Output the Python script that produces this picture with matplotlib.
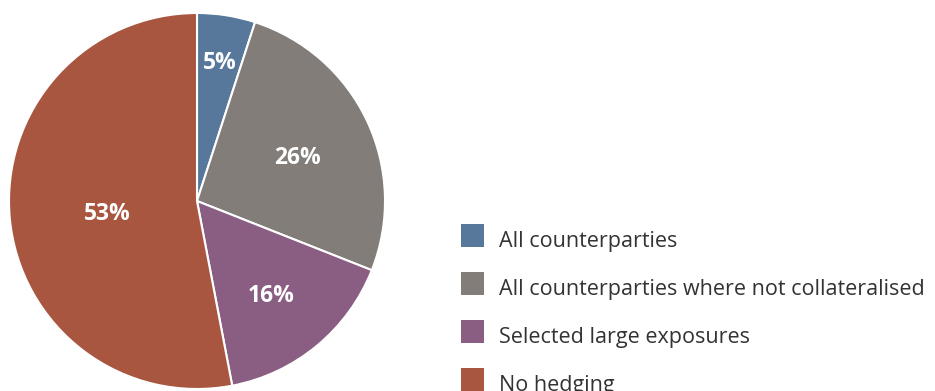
import numpy as np
import matplotlib.pyplot as plt
from matplotlib.patches import Rectangle

labels = ['All counterparties',
          'All counterparties where not collateralised',
          'Selected large exposures',
          'No hedging']
shares = [5, 26, 16, 53]
colours = ['#57789A', '#827D78', '#8A5E82', '#A95641']
label_radius = [0.77, 0.59, 0.62, 0.48]

W, H = 935, 391
fig = plt.figure(figsize=(W / 100, H / 100), dpi=100)
plt.rcParams['font.family'] = ['Open Sans', 'DejaVu Sans']

# pie: centre (197, 201) px, radius 188 px
cx, cy, r = 197, 201, 188
ax = fig.add_axes([(cx - r) / W, (H - cy - r) / H, 2 * r / W, 2 * r / H])
wedges, _ = ax.pie(shares, colors=colours, startangle=90, counterclock=False,
                   radius=1.0, wedgeprops=dict(edgecolor='white', linewidth=1.5))
ax.set_xlim(-1, 1)
ax.set_ylim(-1, 1)
ax.set_aspect('equal')
ax.axis('off')

for w, v, d in zip(wedges, shares, label_radius):
    mid = np.deg2rad((w.theta1 + w.theta2) / 2)
    ax.text(d * np.cos(mid), d * np.sin(mid) - 0.025, f'{v}%', color='white',
            fontsize=16.5, fontweight='bold', ha='center', va='center')

# legend drawn by hand
sq = 23
for i, (lab, col) in enumerate(zip(labels, colours)):
    top = 224 + 48 * i
    fig.patches.append(Rectangle((461 / W, (H - top - sq) / H), sq / W, sq / H,
                                 transform=fig.transFigure, facecolor=col,
                                 edgecolor='none'))
    fig.text(499 / W, (H - top - sq) / H, lab, fontsize=15.5, color='#333333',
             ha='left', va='baseline')

fig.savefig('out.png', dpi=100)
